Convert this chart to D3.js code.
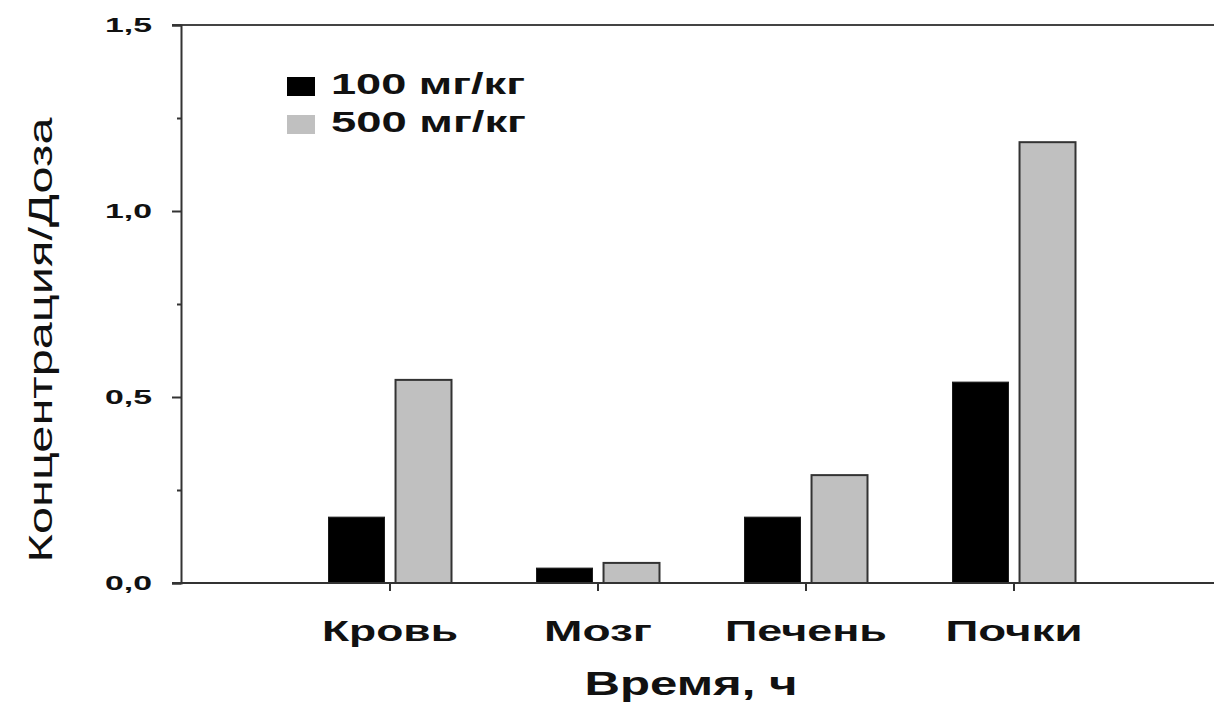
<!DOCTYPE html>
<html>
<head>
<meta charset="utf-8">
<script src="https://cdn.jsdelivr.net/npm/d3@7"></script>
<style>
  html, body { margin: 0; padding: 0; background: #fff; }
  svg { display: block; }
  text { font-family: "Liberation Sans", Arial, sans-serif; fill: #111; }
</style>
</head>
<body>
<svg id="chart" width="1214" height="706"></svg>
<script>
// Organs on the category axis
const categories = ["Кровь", "Мозг", "Печень", "Почки"];
// Series names (doses)
const seriesNames = ["100 мг/кг", "500 мг/кг"];
// Concentration / dose ratio per organ
const dose100 = [0.177, 0.040, 0.177, 0.540];
const dose500 = [0.546, 0.054, 0.290, 1.185];
// Y axis ticks
const majorTicks = [0, 0.5, 1.0, 1.5];
const minorTicks = [0.25, 0.75, 1.25];
const yTitle = "Концентрация/Доза";
const xTitle = "Время, ч";

const seriesValues = [dose100, dose500];
const fills = ["#000000", "#c0c0c0"];
const strokes = ["#1a1a1a", "#333333"];

const svg = d3.select("#chart");

const plotLeft = 181, plotTop = 25, plotBottom = 583, plotRight = 1214;

const y = d3.scaleLinear().domain([0, 1.5]).range([plotBottom, plotTop]);
const x = d3.scaleBand().domain(categories).range([286, 1118]).paddingInner(0).paddingOuter(0);
const xSub = d3.scaleBand().domain(seriesNames).range([-61.5, 61.5]).paddingInner(0.165);

// Bars
const rows = categories.map((c, i) => ({ cat: c, vals: seriesNames.map((s, j) => ({ s, j, v: seriesValues[j][i] })) }));
const groups = svg.append("g").selectAll("g").data(rows).join("g")
  .attr("transform", d => `translate(${x(d.cat) + x.bandwidth() / 2},0)`);
groups.selectAll("rect").data(d => d.vals).join("rect")
  .attr("x", d => xSub(d.s))
  .attr("width", xSub.bandwidth())
  .attr("y", d => y(d.v))
  .attr("height", d => y(0) - y(d.v))
  .attr("fill", d => fills[d.j])
  .attr("stroke", d => strokes[d.j])
  .attr("stroke-width", d => d.j === 1 ? 2 : 1);

// Top frame line
svg.append("line")
  .attr("x1", 172).attr("x2", plotRight)
  .attr("y1", plotTop).attr("y2", plotTop)
  .attr("stroke", "#444").attr("stroke-width", 2);

// Y axis: major ticks with labels
const yAxis = svg.append("g").attr("transform", `translate(${plotLeft},0)`)
  .call(d3.axisLeft(y).tickValues(majorTicks).tickSize(9).tickPadding(20)
    .tickFormat(d => d3.format(".1f")(d).replace(".", ",")));
yAxis.select(".domain").attr("stroke", "#333").attr("stroke-width", 2);
yAxis.selectAll(".tick line").attr("stroke", "#333").attr("stroke-width", 2);
yAxis.selectAll(".tick text")
  .style("font-size", "21px").style("font-weight", "bold")
  .attr("textLength", 47).attr("lengthAdjust", "spacingAndGlyphs")
  .attr("fill", "#111");

// Y axis: minor ticks
const yMinor = svg.append("g").attr("transform", `translate(${plotLeft},0)`)
  .call(d3.axisLeft(y).tickValues(minorTicks).tickSize(4).tickFormat(""));
yMinor.select(".domain").remove();
yMinor.selectAll(".tick line").attr("stroke", "#333").attr("stroke-width", 2);

// X axis baseline and ticks
svg.append("line")
  .attr("x1", 172).attr("x2", plotRight)
  .attr("y1", plotBottom).attr("y2", plotBottom)
  .attr("stroke", "#333").attr("stroke-width", 2);
const xAxis = svg.append("g").attr("transform", `translate(0,${plotBottom})`)
  .call(d3.axisBottom(x).tickSize(8).tickPadding(40));
xAxis.select(".domain").remove();
xAxis.selectAll(".tick line").attr("stroke", "#333").attr("stroke-width", 2);
const labelWidths = { "Кровь": 136, "Мозг": 108, "Печень": 162, "Почки": 137 };
xAxis.selectAll(".tick text")
  .attr("y", 58).attr("dy", 0)
  .style("font-size", "30px").style("font-weight", "bold")
  .attr("textLength", d => labelWidths[d]).attr("lengthAdjust", "spacingAndGlyphs")
  .attr("fill", "#111");

// Axis titles
svg.append("text")
  .attr("x", 691).attr("y", 695)
  .attr("text-anchor", "middle")
  .style("font-size", "34px").style("font-weight", "bold")
  .attr("textLength", 213).attr("lengthAdjust", "spacingAndGlyphs")
  .text(xTitle);

svg.append("text")
  .attr("transform", "translate(52,340) rotate(-90)")
  .attr("text-anchor", "middle")
  .style("font-size", "34px")
  .attr("textLength", 445).attr("lengthAdjust", "spacingAndGlyphs")
  .text(yTitle);

// Legend
const legend = svg.append("g");
const legendRows = seriesNames.map((s, j) => ({ s, j }));
const lg = legend.selectAll("g").data(legendRows).join("g")
  .attr("transform", d => `translate(287,${77 + d.j * 38})`);
lg.append("rect")
  .attr("width", 28).attr("height", 19)
  .attr("fill", d => fills[d.j]);
lg.append("text")
  .attr("x", 44).attr("y", 17)
  .style("font-size", "29px").style("font-weight", "bold")
  .attr("textLength", d => d.j === 0 ? 194 : 195).attr("lengthAdjust", "spacingAndGlyphs")
  .text(d => d.s);
</script>
</body>
</html>
